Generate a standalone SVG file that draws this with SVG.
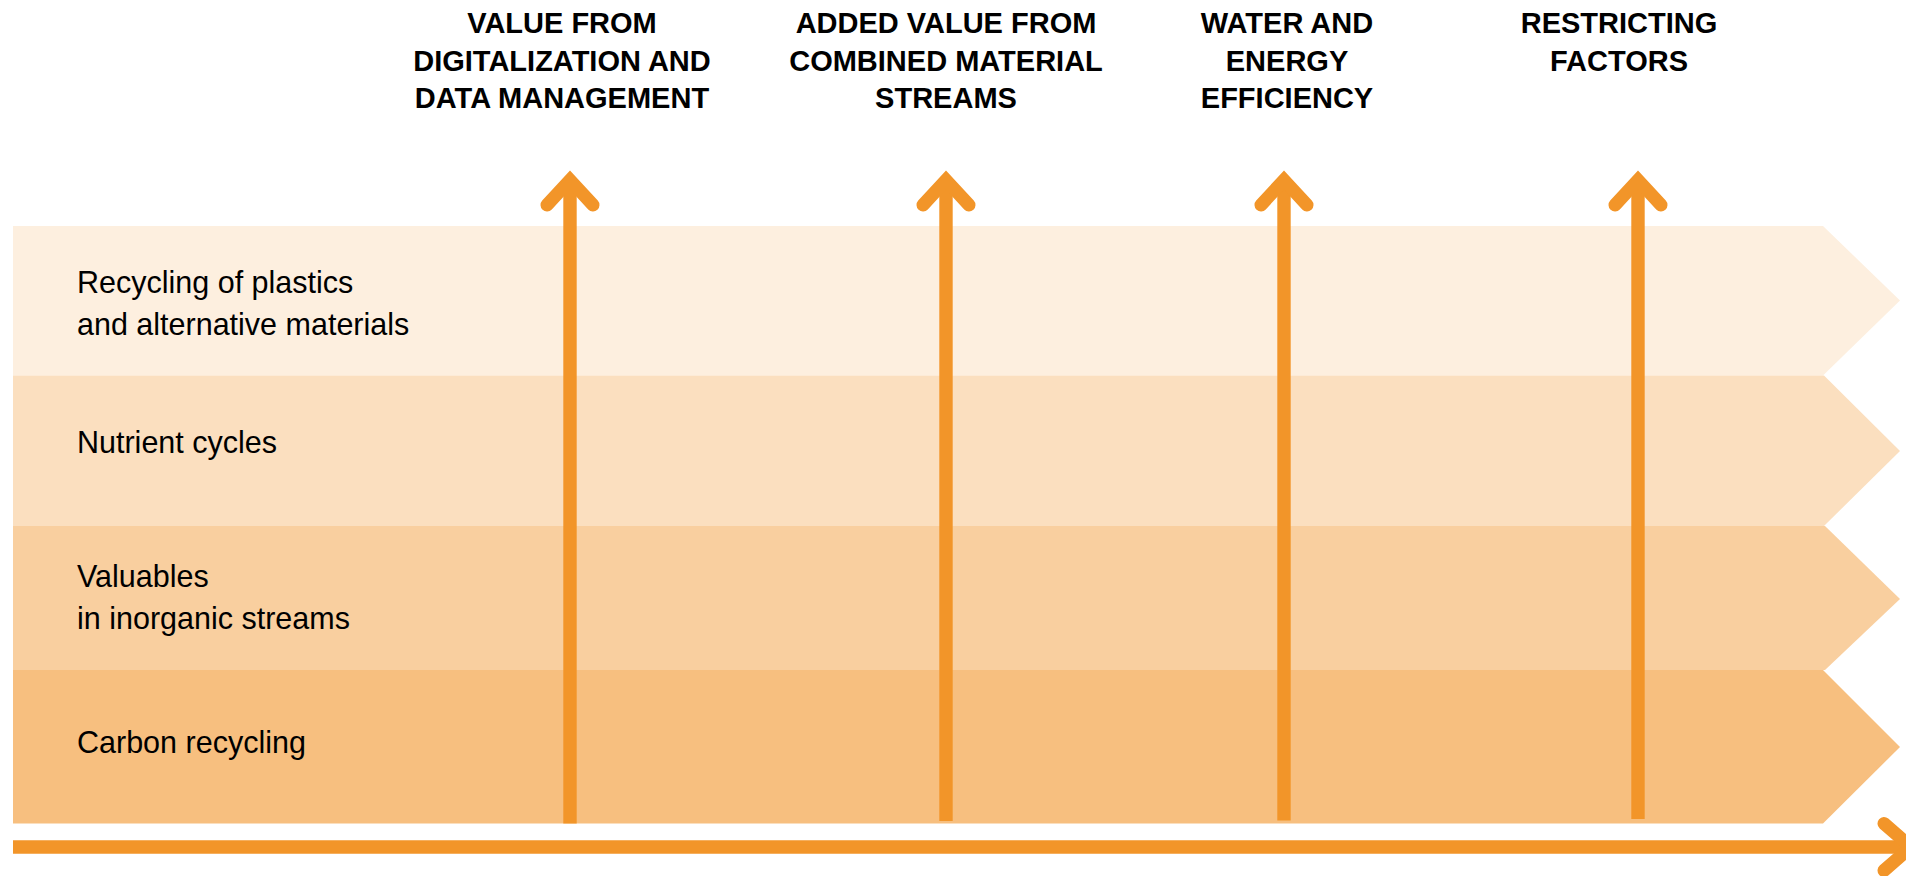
<svg xmlns="http://www.w3.org/2000/svg" width="1906" height="876" viewBox="0 0 1906 876">
<style>
.head{font-family:"Liberation Sans",Arial,sans-serif;font-weight:bold;font-size:29px;fill:#000;text-anchor:middle}
.lbl{font-family:"Liberation Sans",Arial,sans-serif;font-size:30.5px;fill:#000}
.arr{fill:none;stroke:#F29529;stroke-width:13.4}
.head-arm{fill:none;stroke:#F29529;stroke-width:13;stroke-linecap:round;stroke-linejoin:miter}
</style>
<rect width="1906" height="876" fill="#fff"/>
<g id="band-plastics">
<polygon points="13,226 1823,226 1900,300.5 1823,375.5 13,375.5" fill="#FDEFDF"/>
<text class="lbl" x="77" y="293">Recycling of plastics</text>
<text class="lbl" x="77" y="335">and alternative materials</text>
</g>
<g id="band-nutrient">
<polygon points="13,375.5 1824,375.5 1900,451 1824,526 13,526" fill="#FBDFBF"/>
<text class="lbl" x="77" y="453">Nutrient cycles</text>
</g>
<g id="band-valuables">
<polygon points="13,526 1825,526 1900,599 1825,670 13,670" fill="#F9CF9F"/>
<text class="lbl" x="77" y="587">Valuables</text>
<text class="lbl" x="77" y="628.5">in inorganic streams</text>
</g>
<g id="band-carbon">
<polygon points="13,670 1823,670 1900,747 1823,823.5 13,823.5" fill="#F7BF7F"/>
<text class="lbl" x="77" y="753">Carbon recycling</text>
</g>
<g id="heading-digitalization">
<text class="head" x="562" y="33">VALUE FROM</text>
<text class="head" x="562" y="70.5">DIGITALIZATION AND</text>
<text class="head" x="562" y="108">DATA MANAGEMENT</text>
</g>
<g id="heading-combined">
<text class="head" x="946" y="33">ADDED VALUE FROM</text>
<text class="head" x="946" y="70.5">COMBINED MATERIAL</text>
<text class="head" x="946" y="108">STREAMS</text>
</g>
<g id="heading-water">
<text class="head" x="1287" y="33">WATER AND</text>
<text class="head" x="1287" y="70.5">ENERGY</text>
<text class="head" x="1287" y="108">EFFICIENCY</text>
</g>
<g id="heading-restricting">
<text class="head" x="1619" y="33">RESTRICTING</text>
<text class="head" x="1619" y="70.5">FACTORS</text>
</g>
<g id="connectors">
<line class="arr" x1="570" y1="823.5" x2="570" y2="178"/>
<polyline class="head-arm" points="547,205 570,180 593,205"/>
<line class="arr" x1="946" y1="821" x2="946" y2="178"/>
<polyline class="head-arm" points="923,205 946,180 969,205"/>
<line class="arr" x1="1284" y1="820.5" x2="1284" y2="178"/>
<polyline class="head-arm" points="1261,205 1284,180 1307,205"/>
<line class="arr" x1="1638" y1="819" x2="1638" y2="178"/>
<polyline class="head-arm" points="1615,205 1638,180 1661,205"/>
<line class="arr" x1="13" y1="847" x2="1906" y2="847" stroke-width="12.7"/>
<polyline class="head-arm" points="1884,823.5 1911,847 1884,870.5"/>
</g>
</svg>
